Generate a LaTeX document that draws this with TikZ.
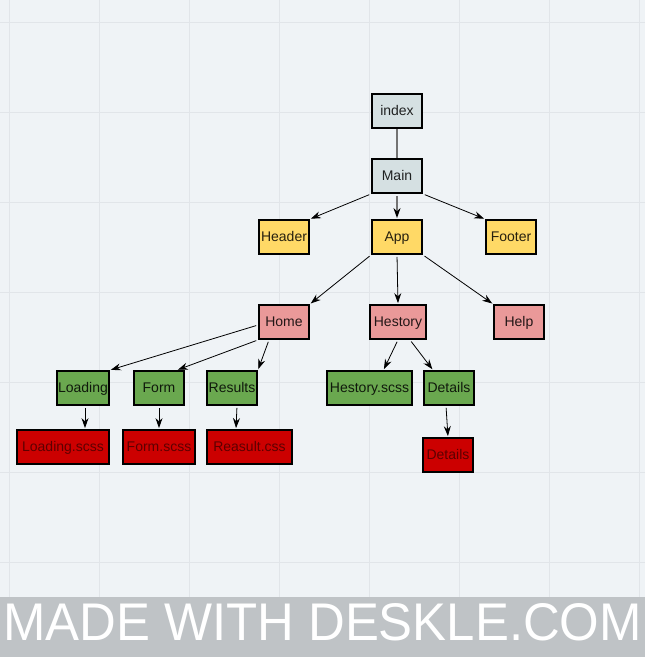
\documentclass[tikz,border=0pt]{standalone}
\usepackage{fontspec}
\setmainfont{Liberation Sans}
\usetikzlibrary{arrows.meta}
\definecolor{bgpaper}{HTML}{EFF3F6}
\definecolor{gridln}{HTML}{E1E5E9}
\definecolor{banner}{HTML}{BFC3C6}
\definecolor{topfill}{HTML}{D5E0E2}
\definecolor{yellowfill}{HTML}{FFD966}
\definecolor{pinkfill}{HTML}{EA9999}
\definecolor{greenfill}{HTML}{6AA84F}
\definecolor{redfill}{HTML}{CC0000}

\begin{document}
\begin{tikzpicture}[x=1pt,y=-1pt,
	box/.style={draw=black, line width=1.8pt, minimum height=34pt, minimum width=50pt, inner sep=0pt,
		text height=10pt, text depth=1pt,
		font=\fontsize{14}{16}\selectfont, text=black, text opacity=0.85},
	redbox/.style={box, fill=redfill, text opacity=0.55},
	link/.style={-{Stealth[length=10pt,width=7pt]}, thick, shorten <=2pt, shorten >=1pt}]
	\fill[bgpaper] (0,0) rectangle (645,657);
	\useasboundingbox (0,0) rectangle (645,657);
	\foreach \gx in {9,99,...,639}
		\draw[gridln, line width=1pt] (\gx,0) -- (\gx,657);
	\foreach \gy in {22,112,...,600}
		\draw[gridln, line width=1pt] (0,\gy) -- (645,\gy);

	\node[box, fill=topfill] (index) at (397,111) {index};
	\node[box, fill=topfill] (main) at (397,176) {Main};
	\node[box, fill=yellowfill] (header) at (284,237) {Header};
	\node[box, fill=yellowfill] (app) at (397,237) {App};
	\node[box, fill=yellowfill] (footer) at (511,237) {Footer};
	\node[box, fill=pinkfill] (home) at (284,322) {Home};
	\node[box, fill=pinkfill, minimum width=56pt] (hestory) at (398,322) {Hestory};
	\node[box, fill=pinkfill] (help) at (519,322) {Help};
	\node[box, fill=greenfill, minimum width=52pt] (loading) at (83,388) {Loading};
	\node[box, fill=greenfill] (form) at (159,388) {Form};
	\node[box, fill=greenfill] (results) at (232,388) {Results};
	\node[box, fill=greenfill, minimum width=85pt] (hestoryscss) at (369.5,388) {Hestory.scss};
	\node[box, fill=greenfill] (details) at (449,388) {Details};
	\node[redbox, minimum width=92pt] (loadingscss) at (63,447) {Loading.scss};
	\node[redbox, minimum width=72pt] (formscss) at (159,447) {Form.scss};
	\node[redbox, minimum width=85pt] (resultcss) at (249.5,447) {Reasult.css};
	\node[redbox] (detailsred) at (448,455) {Details};

	\draw[gray!90!black, line width=1.6pt] (index) -- (main);
	\draw[link, gray!90!black, line width=1.6pt, arrows={-{Stealth[length=10pt,width=7pt,fill=black,color=black]}}] (main) -- (app);
	\draw[link] (main.south west) -- (header.north east);
	\draw[link] (main.south east) -- (footer.north west);
	\draw[link] (app.south west) -- (home.north east);
	\draw[link] (app.south) -- (hestory.north);
	\draw[link] (app.south east) -- (help.north west);
	\draw[link] ([yshift=-3pt]home.west) -- (loading.north east);
	\draw[link] (home.south west) -- ([xshift=-8pt]form.north east);
	\draw[link] ([xshift=-15pt]home.south) -- (results.north east);
	\draw[link] ([xshift=2pt]loading.south) -- ([xshift=2pt]loading.south |- loadingscss.north);
	\draw[link] (form.south) -- (formscss.north -| form.south);
	\draw[link] ([xshift=5pt]results.south) -- ([xshift=4pt]results.south |- resultcss.north);
	\draw[link] (hestory.south) -- ([xshift=14pt]hestoryscss.north);
	\draw[link] ([xshift=12pt]hestory.south) -- ([xshift=-16pt]details.north);
	\draw[link] ([xshift=-3pt]details.south) -- (detailsred.north);

	\fill[banner] (0,597) rectangle (645,657);
	\node[text=white, inner sep=0pt, xscale=0.96, font=\fontsize{53}{60}\selectfont] (credit) at (322.5,622) {MADE WITH DESKLE.COM};
\end{tikzpicture}
\end{document}
